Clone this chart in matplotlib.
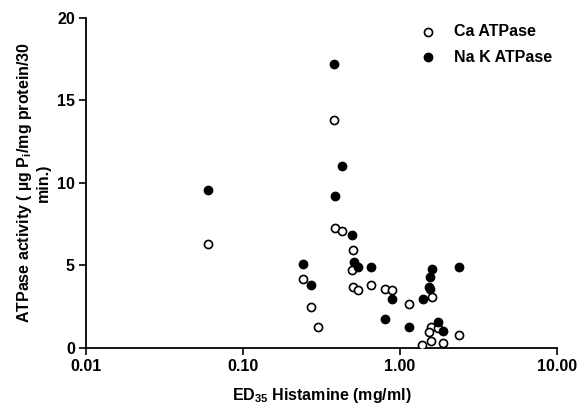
import matplotlib
matplotlib.use('Agg')
import matplotlib.pyplot as plt
from matplotlib.ticker import FixedLocator, FixedFormatter, NullLocator

plt.rcParams['font.family'] = ['Liberation Sans', 'DejaVu Sans']
plt.rcParams['font.weight'] = 'bold'
plt.rcParams['mathtext.fontset'] = 'custom'
plt.rcParams['mathtext.bf'] = 'Liberation Sans:bold'
plt.rcParams['mathtext.rm'] = 'Liberation Sans:bold'
plt.rcParams['mathtext.default'] = 'bf'

# Ca ATPase (open circles)
ca_x = [0.060, 0.380, 0.386, 0.430, 0.242, 0.270, 0.301, 0.505, 0.498, 0.505,
        0.539, 0.653, 0.805, 0.893, 1.136, 1.60, 1.58, 1.74, 1.52, 1.58,
        1.39, 1.87, 2.37]
ca_y = [6.31, 13.84, 7.27, 7.09, 4.17, 2.45, 1.27, 5.93, 4.72, 3.70,
        3.50, 3.79, 3.56, 3.50, 2.65, 3.10, 1.27, 1.18, 0.97, 0.43,
        0.17, 0.26, 0.77]

# Na K ATPase (filled circles)
nak_x = [0.060, 0.380, 0.428, 0.386, 0.242, 0.270, 0.492, 0.507, 0.539, 0.653,
         0.89, 0.805, 1.136, 1.395, 1.60, 1.56, 1.52, 1.56, 2.38, 1.74, 1.87]
nak_y = [9.57, 17.22, 11.03, 9.23, 5.06, 3.79, 6.84, 5.22, 4.92, 4.92,
         2.96, 1.72, 1.28, 2.94, 4.76, 4.31, 3.67, 3.55, 4.92, 1.58, 1.03]

x_ticks = [0.01, 0.1, 1, 10]
x_tick_labels = ['0.01', '0.10', '1.00', '10.00']
y_ticks = [0, 5, 10, 15, 20]

fig = plt.figure(figsize=(5.86, 4.08), dpi=100)
ax = fig.add_axes([0.1468, 0.1478, 0.8037, 0.8081])

ax.scatter(ca_x, ca_y, s=34, facecolors='white', edgecolors='black',
           linewidths=1.2, label='Ca ATPase', zorder=3)
ax.scatter(nak_x, nak_y, s=34, facecolors='black', edgecolors='black',
           linewidths=1.2, label='Na K ATPase', zorder=3)

ax.set_xscale('log')
ax.set_xlim(0.01, 10)
ax.set_ylim(0, 20)
ax.xaxis.set_major_locator(FixedLocator(x_ticks))
ax.xaxis.set_major_formatter(FixedFormatter(x_tick_labels))
ax.xaxis.set_minor_locator(NullLocator())
ax.set_yticks(y_ticks)

for side in ['top', 'right']:
    ax.spines[side].set_visible(False)
for side in ['left', 'bottom']:
    ax.spines[side].set_linewidth(1.3)

ax.tick_params(axis='both', direction='out', length=5, width=1.2,
               labelsize=11.5, pad=3)

ax.set_xlabel('ED$_{35}$ Histamine (mg/ml)', fontsize=11.5, fontweight='bold',
              labelpad=9)
ax.set_ylabel('ATPase activity ( \u00b5g P$_{i}$/mg protein/30\nmin.)',
              fontsize=11.5, fontweight='bold', labelpad=4)

ax.legend(loc='upper right', bbox_to_anchor=(1.01, 1.01), frameon=False,
          fontsize=11.5, labelspacing=0.65, handletextpad=0.6,
          borderaxespad=0.2)

fig.savefig('out.png', dpi=100)
